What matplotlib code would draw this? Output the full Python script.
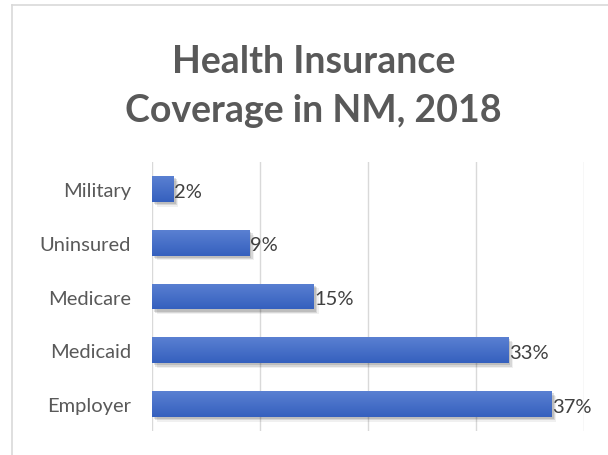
import matplotlib.pyplot as plt
import matplotlib.patheffects as pe
import numpy as np
from matplotlib.lines import Line2D
from matplotlib.colors import LinearSegmentedColormap

categories = ["Employer", "Medicaid", "Medicare", "Uninsured", "Military"]
shares = [37, 33, 15, 9, 2]
value_labels = ["37%", "33%", "15%", "9%", "2%"]

plt.rcParams['font.family'] = ['Lato', 'DejaVu Sans']

fig = plt.figure(figsize=(6.08, 4.56), dpi=100)
ax = fig.add_axes([0.25, 0.0526, 0.7105, 0.5899])

y = np.arange(len(categories))
# soft drop shadow: a few stacked offsets
shadow = [pe.SimplePatchShadow(offset=(1.5, -1.5), shadow_rgbFace="#000000", alpha=0.12),
          pe.SimplePatchShadow(offset=(2.5, -2.5), shadow_rgbFace="#000000", alpha=0.10),
          pe.SimplePatchShadow(offset=(3.5, -3.5), shadow_rgbFace="#000000", alpha=0.06),
          pe.Normal()]
bars = ax.barh(y, shares, height=0.48, color="#4472C4", zorder=3, path_effects=shadow)

# vertical gradient on each bar
grad = np.linspace(0, 1, 64).reshape(-1, 1)
cmap = LinearSegmentedColormap.from_list("blu", ["#3560BE", "#5A80D2"])
for b in bars:
    x0, y0 = b.get_x(), b.get_y()
    w, h = b.get_width(), b.get_height()
    im = ax.imshow(grad, extent=[x0, x0 + w, y0, y0 + h], origin="lower",
                   cmap=cmap, aspect="auto", zorder=4)
    im.set_clip_path(b)

for yi, v, lab in zip(y, shares, value_labels):
    ax.text(v + 0.05, yi - 0.04, lab, va="center", ha="left", fontsize=14.5, color="#404040", zorder=5)

ax.set_xlim(0, 40)
ax.set_ylim(-0.5, len(categories) - 0.5)
ax.set_xticks([0, 10, 20, 30, 40])
ax.set_xticklabels([])
ax.set_yticks(y)
ax.set_yticklabels(categories, fontsize=14.5, color="#595959")
ax.tick_params(axis="both", length=0, pad=15)
ax.grid(axis="x", color="#D9D9D9", linewidth=1, zorder=0)
for s in ax.spines.values():
    s.set_visible(False)

fig.text(0.516, 0.865, "Health Insurance", ha="center", va="center",
         fontsize=27, fontweight="bold", color="#595959")
fig.text(0.516, 0.757, "Coverage in NM, 2018", ha="center", va="center",
         fontsize=27, fontweight="bold", color="#595959")

# chart area border
fig.add_artist(Line2D([12 / 608, 12 / 608], [0, 1 - 6 / 456], color="#D9D9D9", lw=1.2, transform=fig.transFigure))
fig.add_artist(Line2D([12 / 608, 1], [1 - 6 / 456, 1 - 6 / 456], color="#D9D9D9", lw=1.2, transform=fig.transFigure))

fig.savefig("out.png", dpi=100)
